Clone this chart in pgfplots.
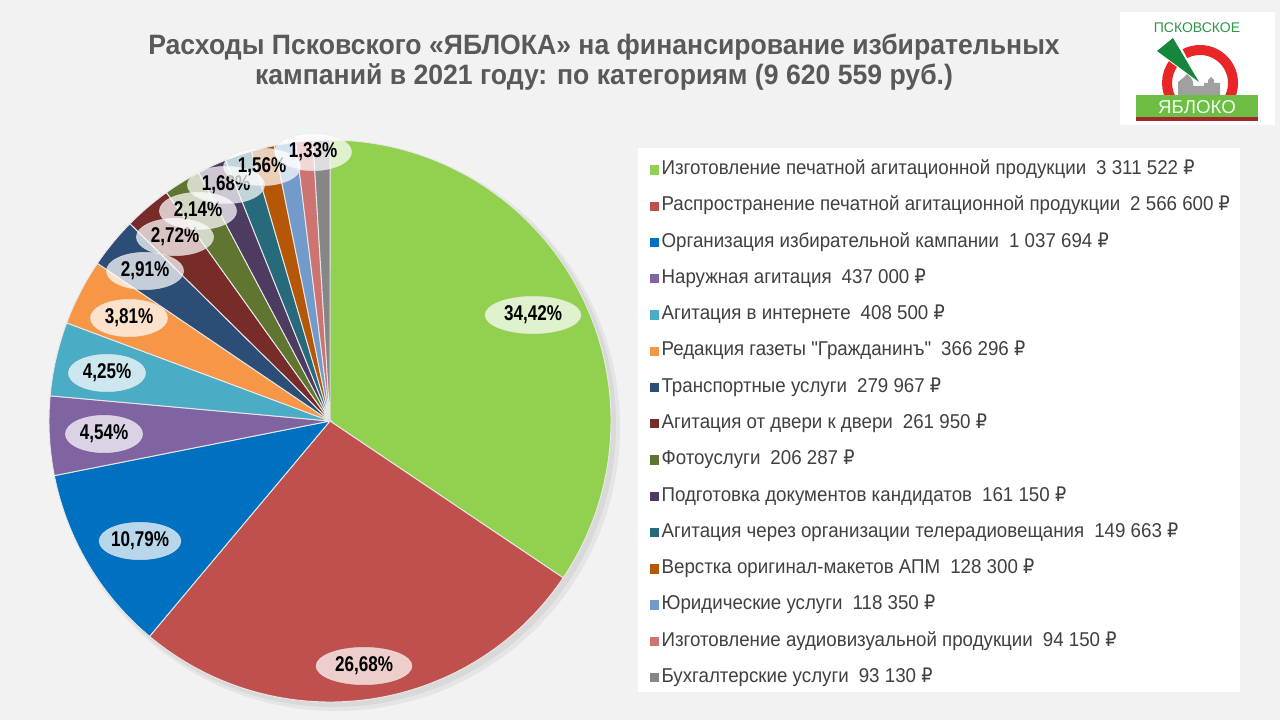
\documentclass[border=0pt]{standalone}
\usepackage{fontspec}
\setmainfont{Liberation Sans}[FakeStretch=0.95]
\newfontfamily\legfont{Liberation Sans}[FakeStretch=0.936]
\newfontfamily\logofont{Liberation Sans}
\newfontfamily\rubfont{DejaVu Sans}[FakeStretch=0.88]
\newfontfamily\labfont{Liberation Sans}[FakeStretch=0.8]
\usepackage{pgfplots}
\pgfplotsset{compat=1.18}
\usetikzlibrary{shapes.geometric}

\newcommand\rub{{\rubfont ₽}}

\definecolor{bg}{HTML}{F2F2F2}
\definecolor{titlegray}{HTML}{595959}
\definecolor{leggray}{HTML}{404040}
\definecolor{sep}{HTML}{E8E8E8}
\definecolor{c1}{HTML}{92D050}
\definecolor{c2}{HTML}{C0504D}
\definecolor{c3}{HTML}{0070C0}
\definecolor{c4}{HTML}{8064A2}
\definecolor{c5}{HTML}{4BACC6}
\definecolor{c6}{HTML}{F79646}
\definecolor{c7}{HTML}{2C4D75}
\definecolor{c8}{HTML}{772C2A}
\definecolor{c9}{HTML}{5F7530}
\definecolor{c10}{HTML}{4D3B62}
\definecolor{c11}{HTML}{276A7C}
\definecolor{c12}{HTML}{B65708}
\definecolor{c13}{HTML}{729ACA}
\definecolor{c14}{HTML}{CD7371}
\definecolor{c15}{HTML}{868686}
\definecolor{logogreen}{HTML}{2E9646}
\definecolor{logored}{HTML}{E8262A}
\definecolor{logogray}{HTML}{A0A0A0}
\definecolor{logowedge}{HTML}{14873C}
\definecolor{logobar}{HTML}{6EBE46}
\definecolor{logoline}{HTML}{A02828}

% расходы по категориям, руб.
\def\vals{3311522,2566600,1037694,437000,408500,366296,279967,261950,206287,161150,149663,128300,118350,94150,93130}
\def\total{9620559}
\gdef\cum{0}
\foreach \v [count=\i] in \vals {%
  \xdef\tmpS{\fpeval{round(90-\cum/\total*360,4)}}%
  \xdef\cum{\fpeval{\cum+\v}}%
  \expandafter\xdef\csname angS\i\endcsname{\tmpS}%
  \expandafter\xdef\csname angE\i\endcsname{\fpeval{round(90-\cum/\total*360,4)}}%
}

\newcommand\lab[3]{\node[ellipse, fill=white, fill opacity=0.72, text opacity=1,
  draw=white!80!gray, draw opacity=0.7, minimum width=#3pt, minimum height=28pt, inner sep=0pt,
  font=\labfont\bfseries\fontsize{16}{16}\selectfont] at (axis cs:#1) {#2\%};}

\begin{document}
\begin{tikzpicture}[x=0.75pt,y=-0.75pt]
\fill[bg] (0,0) rectangle (1280,720);
% legend box
\fill[white] (638,148) rectangle (1240,692);

\begin{axis}[
  scale only axis, width=960pt, height=540pt,
  at={(0,0)}, anchor=north west,
  xmin=0, xmax=1280, ymin=0, ymax=720, y dir=reverse,
  hide axis, clip=false,
  legend cell align=left,
  legend image code/.code={\fill[#1,draw=none] (0pt,-3.5pt) rectangle (7pt,3.5pt);},
  legend style={at={(axis cs:644,153)}, anchor=north west, draw=none, fill=none,
    font=\legfont\fontsize{15}{16}\selectfont, text=leggray, inner sep=4pt, row sep=10.2pt,
    nodes={inner sep=2pt, text height=10pt, text depth=3pt}},
]
% shadow
\fill[black, opacity=0.05] (336,427) circle[radius=284];
\fill[black, opacity=0.05] (334,425) circle[radius=282];

\pgfplotsforeachungrouped \i in {1,...,15}{%
  \edef\doslice{\noexpand\addplot[fill=c\i, draw=sep, line width=0.7pt,
    domain=\csname angE\i\endcsname:\csname angS\i\endcsname, samples=90]
    ({330+281*cos(x)},{421-281*sin(x)}) -- (axis cs:330,421) -- cycle;}%
  \doslice
}

\legend{%
  Изготовление печатной агитационной продукции\enspace 3 311 522 \rub,
  Распространение печатной агитационной продукции\enspace 2 566 600 \rub,
  Организация избирательной кампании\enspace 1 037 694 \rub,
  Наружная агитация\enspace 437 000 \rub,
  Агитация в интернете\enspace 408 500 \rub,
  Редакция газеты "Гражданинъ"\enspace 366 296 \rub,
  Транспортные услуги\enspace 279 967 \rub,
  Агитация от двери к двери\enspace 261 950 \rub,
  Фотоуслуги\enspace 206 287 \rub,
  Подготовка документов кандидатов\enspace 161 150 \rub,
  Агитация через организации телерадиовещания\enspace 149 663 \rub,
  Верстка оригинал-макетов АПМ\enspace 128 300 \rub,
  Юридические услуги\enspace 118 350 \rub,
  Изготовление аудиовизуальной продукции\enspace 94 150 \rub,
  Бухгалтерские услуги\enspace 93 130 \rub}

\lab{533,315}{34,42}{72}
\lab{364,666}{26,68}{72}
\lab{140,541}{10,79}{60}
\lab{104,434}{4,54}{58}
\lab{107,373}{4,25}{58}
\lab{129,318}{3,81}{58}
\lab{145,271}{2,91}{58}
\lab{175,237}{2,72}{58}
\lab{198,211}{2,14}{58}
\lab{226,185}{1,68}{58}
\lab{262,167}{1,56}{58}
\lab{313,152}{1,33}{58}
\end{axis}

% title
\node[font=\bfseries\fontsize{21}{22.5}\selectfont, text=titlegray, align=center] at (604,62)
  {Расходы Псковского «ЯБЛОКА» на финансирование избирательных\\
   кампаний в 2021 году: по категориям (9 620 559 руб.)};

% logo
\fill[white] (1120,12) rectangle (1275,125);
\node[font=\logofont\fontsize{10.5}{11}\selectfont, text=logogreen] at (1197,28) {ПСКОВСКОЕ};
\draw[logored, line width=7.5pt] (1200,83) ++(40:33) arc[start angle=40, end angle=-220, radius=33];
\fill[white] (1157,52) -- (1175,35) -- (1201,85) -- cycle;
\fill[logogray] (1178,95) -- (1178,82) -- (1183,78) -- (1187,74) -- (1191,78) -- (1193,82) -- (1193,86)
  -- (1204,86) -- (1204,83) -- (1208,83) -- (1208,80) -- (1211,77) -- (1214,80) -- (1214,83)
  -- (1220,83) -- (1220,95) -- cycle;
\fill[logowedge] (1157,51) -- (1173,38) -- (1199,82) -- cycle;
\fill[logobar] (1136,95) rectangle (1258,117);
\fill[logoline] (1136,117) rectangle (1258,121);
\node[font=\logofont\fontsize{14}{15}\selectfont, text=white!92!green] at (1197,107) {ЯБЛОКО};
\end{tikzpicture}
\end{document}
